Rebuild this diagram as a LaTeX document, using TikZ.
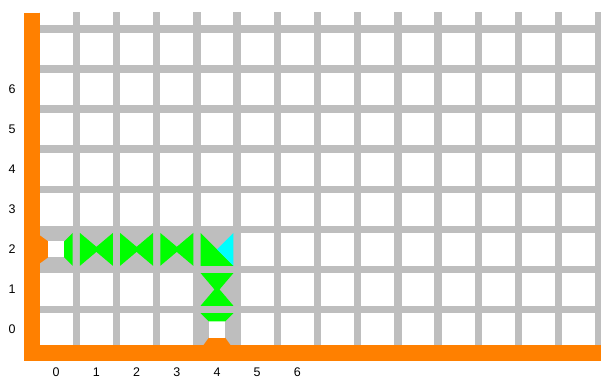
\documentclass[tikz,border=0pt]{standalone}
\usepackage{fontspec}
\setmainfont{Liberation Sans}
\definecolor{wallorange}{RGB}{255,128,0}
\definecolor{gridgray}{RGB}{190,190,190}
\definecolor{tilegreen}{RGB}{0,255,0}
\definecolor{tilecyan}{RGB}{0,255,255}

\begin{document}
\begin{tikzpicture}[x=40.2pt,y=40.07pt,
  gridline/.style={gridgray,line width=7.5pt},
  lbl/.style={font=\fontsize{12.5}{14}\selectfont,inner sep=0pt}]
\def\h{0.41}
\def\w{0.2}
\useasboundingbox[fill=white] (-1.398,-1.235) rectangle (13.552,8.223);
\begin{scope}
\clip (-0.403,-0.387) rectangle (13.552,7.899);
\fill[gridgray] (-0.5,1.5) rectangle (4.5,2.5);
\fill[gridgray] (3.5,-0.5) rectangle (4.5,2.5);
\foreach \i in {0,...,14} \draw[gridline] (\i-0.5,-1) -- (\i-0.5,9);
\foreach \j in {0,...,8} \draw[gridline] (-1,\j-0.5) -- (14,\j-0.5);
\end{scope}
\fill[wallorange] (-0.801,-0.786) rectangle (-0.403,7.899);
\fill[wallorange] (-0.801,-0.786) rectangle (13.552,-0.387);
\fill[wallorange] (-0.45,2.38) -- (-\w,2+\w) -- (-\w,2-\w) -- (-0.45,1.62) -- cycle;
\fill[wallorange] (4-0.38,-0.45) -- (4-\w,-\w) -- (4+\w,-\w) -- (4+0.38,-0.45) -- cycle;
\fill[white] (-\w,2-\w) rectangle (\w,2+\w);
\fill[white] (4-\w,-\w) rectangle (4+\w,\w);
\fill[tilegreen] (\w,2+\w) -- (\h,2+\h) -- (\h,2-\h) -- (\w,2-\w) -- cycle;
\fill[tilegreen] (4-\w,\w) -- (4-\h,\h) -- (4+\h,\h) -- (4+\w,\w) -- cycle;
\foreach \i in {1,2,3} {
  \fill[tilegreen] (\i-\h,2+\h) -- (\i+0.075,2) -- (\i-\h,2-\h) -- cycle;
  \fill[tilegreen] (\i+\h,2+\h) -- (\i-0.075,2) -- (\i+\h,2-\h) -- cycle;
}
\fill[tilegreen] (4-\h,2+\h) -- (4,2) -- (4+\h,2-\h) -- (4-\h,2-\h) -- cycle;
\fill[tilecyan] (4+\h,2+\h) -- (4,2) -- (4+\h,2-\h) -- cycle;
\fill[tilegreen] (4-\h,1+\h) -- (4,1-0.075) -- (4+\h,1+\h) -- cycle;
\fill[tilegreen] (4-\h,1-\h) -- (4,1+0.075) -- (4+\h,1-\h) -- cycle;
\foreach \j in {0,...,6} \node[lbl] (row\j) at (-1.1,\j) {\j};
\foreach \i in {0,...,6} \node[lbl] (col\i) at (\i,-1.06) {\i};
\end{tikzpicture}
\end{document}
